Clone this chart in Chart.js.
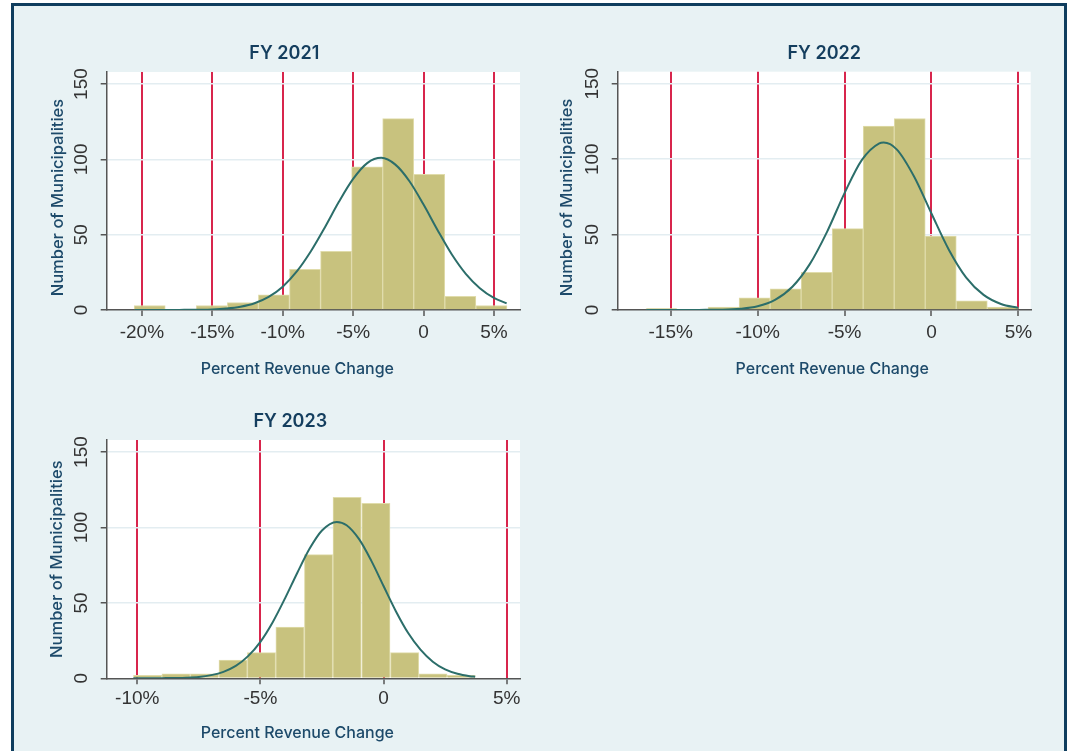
<!DOCTYPE html>
<html>
<head>
<meta charset="utf-8">
<script src="https://cdn.jsdelivr.net/npm/chart.js@4.4.1/dist/chart.umd.min.js"></script>
<style>
  html, body { margin: 0; padding: 0; background: #fff; }
  body { width: 1073px; height: 751px; position: relative; overflow: hidden; }
  #frame { position: absolute; left: 11px; top: 3px; width: 1050px; height: 760px;
           background: #e8f2f4; border: 3px solid #0f3d5e; border-bottom: none; }
  canvas { position: absolute; }
</style>
</head>
<body>
<div id="frame"></div>
<canvas id="fy2021" width="510" height="360" style="left:20px; top:30px;"></canvas>
<canvas id="fy2022" width="500" height="360" style="left:540px; top:30px;"></canvas>
<canvas id="fy2023" width="510" height="353" style="left:20px; top:398px;"></canvas>
<script>
// ---------------- data ----------------
const yTicks = [0, 50, 100, 150];

// FY 2021 - bin edges (% change), counts, fitted curve
const edges2021 = [-20.55, -18.34, -16.14, -13.93, -11.73, -9.52, -7.31, -5.11, -2.90, -0.70, 1.51, 3.72, 5.92];
const counts2021 = [3, 0, 3, 5, 10, 27, 39, 95, 127, 90, 9, 3];
const curveX2021 = [-20.5, -19, -18, -17, -16, -15, -14, -13, -12, -11, -10, -9, -8, -7, -6, -5, -4, -3, -2, -1, 0, 1, 2, 3, 4, 5, 5.9];
const curveY2021 = [0, 0, 0, 0.1, 0.2, 0.4, 1, 2.2, 4.5, 8.7, 15.5, 25.6, 39, 55, 72, 87, 97.5, 101, 96.5, 85.5, 70, 53, 37, 24, 14.5, 8, 4.4];

// FY 2022
const edges2022 = [-16.42, -14.64, -12.85, -11.07, -9.28, -7.50, -5.71, -3.93, -2.14, -0.36, 1.43, 3.21, 5.00];
const counts2022 = [1, 0, 2, 8, 14, 25, 54, 122, 127, 49, 6, 2];
const curveX2022 = [-16.4, -15, -14, -13, -12, -11, -10, -9, -8, -7, -6, -5, -4, -3, -2.75, -2, -1, 0, 1, 2, 3, 4, 5];
const curveY2022 = [0, 0, 0, 0.1, 0.2, 0.8, 2.5, 6.7, 15.4, 30.4, 52, 77.5, 99.5, 110.5, 111, 106.5, 88.5, 64, 40, 21.5, 10, 4, 1.4];

// FY 2023
const edges2023 = [-10.16, -9.00, -7.85, -6.69, -5.53, -4.38, -3.22, -2.06, -0.90, 0.28, 1.43, 2.58, 3.72];
const counts2023 = [2, 3, 3, 12, 17, 34, 82, 120, 116, 17, 3, 2];
const curveX2023 = [-10.16, -9.5, -9, -8.5, -8, -7.5, -7, -6.5, -6, -5.5, -5, -4.5, -4, -3.5, -3, -2.5, -1.9, -1.5, -1, -0.5, 0, 0.5, 1, 1.5, 2, 2.5, 3, 3.5, 3.72];
const curveY2023 = [0, 0, 0.1, 0.2, 0.4, 0.9, 2.1, 4.3, 8.2, 14.7, 24.2, 37.2, 53, 70, 86, 98, 103.7, 101.5, 92.4, 78, 61.2, 44.5, 30, 19, 11, 5.9, 3, 1.4, 1];

// ---------------- look ----------------
const BAR = '#c8c27e';
const BAR_EDGE = '#e0dcab';
const CURVE = '#2c6e6a';
const RED = '#d8254c';
const AXIS = '#555';
const NAVY = '#143e5e';
const TITLE_FONT = 'Inter, "Open Sans", sans-serif';
const TICK_FONT = '"Liberation Sans", Arial, sans-serif';

// paint the plot region white
const plotBg = {
  id: 'plotBg',
  beforeDraw(chart) {
    const { ctx, chartArea: a } = chart;
    ctx.save();
    ctx.fillStyle = '#ffffff';
    ctx.fillRect(a.left, a.top, a.right - a.left, a.bottom - a.top);
    ctx.restore();
  }
};

function makeHistogram(id, title, edges, counts, curveX, curveY, L) {
  const bars = counts.map((c, i) => ({ x: (edges[i] + edges[i + 1]) / 2, y: c }));
  const curve = curveX.map((x, i) => ({ x: x, y: curveY[i] }));

  return new Chart(document.getElementById(id), {
    type: 'bar',
    data: {
      datasets: [
        {
          type: 'line', data: curve, order: 0,
          borderColor: CURVE, borderWidth: 2, pointRadius: 0,
          cubicInterpolationMode: 'monotone', fill: false
        },
        {
          type: 'bar', data: bars, order: 1,
          backgroundColor: BAR, borderColor: BAR_EDGE, borderWidth: { top: 1, left: 1, right: 1, bottom: 0 },
          barPercentage: 1, categoryPercentage: 1
        }
      ]
    },
    options: {
      responsive: false,
      animation: false,
      devicePixelRatio: 1,
      layout: { padding: { left: L.padLeft, right: L.padRight, top: 0, bottom: 0 } },
      plugins: {
        legend: { display: false },
        tooltip: { enabled: false },
        title: {
          display: true, text: title, color: NAVY, fullSize: L.titleFull,
          font: { family: TITLE_FONT, size: 18, weight: '600', lineHeight: 1.2 },
          padding: { top: L.titleTop, bottom: L.titleBottom }
        }
      },
      scales: {
        x: {
          type: 'linear', min: L.xMin, max: L.xMax, offset: false,
          ticks: {
            stepSize: 5, includeBounds: false, autoSkip: false, maxRotation: 0,
            padding: L.xTickPad, color: '#333', font: { family: TICK_FONT, size: 19 },
            callback: v => (v === 0 ? '0' : v + '%')
          },
          grid: { offset: false, color: RED, lineWidth: 2, tickLength: 6, tickColor: AXIS, tickWidth: 1.5 },
          border: { color: AXIS, width: 1.5 },
          title: {
            display: true, text: L.xTitleHead + 'Percent Revenue Change' + L.xTitleTail, color: '#1d4a6a',
            font: { family: TITLE_FONT, size: 16, weight: '500', lineHeight: 1.2 },
            padding: { top: 0, bottom: L.xTitlePad }
          },
          afterFit: s => { s.height = L.xHeight; }
        },
        y: {
          min: 0, max: 158,
          afterBuildTicks: s => { s.ticks = yTicks.map(v => ({ value: v })); },
          ticks: {
            minRotation: 90, maxRotation: 90, crossAlign: 'center', padding: 3,
            color: '#333', font: { family: TICK_FONT, size: 19 }
          },
          grid: {
            color: c => (c.tick && c.tick.value === 0 ? 'rgba(0,0,0,0)' : '#e3edf1'),
            lineWidth: 1.5, tickLength: 6, tickColor: AXIS, tickWidth: 1.5
          },
          border: { color: AXIS, width: 1.5 },
          title: {
            display: true, text: 'Number of Municipalities' + L.yTitleTail, color: '#1d4a6a',
            font: { family: TITLE_FONT, size: 16.5, weight: '500', lineHeight: 1.2 },
            padding: { top: L.yTitlePad, bottom: 0 }
          },
          afterFit: s => { s.width = L.yWidth; }
        }
      }
    },
    plugins: [plotBg]
  });
}

document.addEventListener('DOMContentLoaded', () => {
  makeHistogram('fy2021', 'FY 2021', edges2021, counts2021, curveX2021, curveY2021, {
    padLeft: 28.6, padRight: 10, titleFull: true, titleTop: 12.9, titleBottom: 7.5,
    xMin: -22.5, xMax: 6.85, xTickPad: 5, xHeight: 80, xTitlePad: 11.4, xTitleHead: '', xTitleTail: '\u2003\u2003',
    yWidth: 58.1, yTitlePad: -0.2, yTitleTail: '   '
  });
  makeHistogram('fy2022', 'FY 2022', edges2022, counts2022, curveX2022, curveY2022, {
    padLeft: 10, padRight: 9.3, titleFull: false, titleTop: 12.9, titleBottom: 7.2,
    xMin: -18.05, xMax: 5.71, xTickPad: 5, xHeight: 80, xTitlePad: 11.4, xTitleHead: '\u2003', xTitleTail: '',
    yWidth: 67.7, yTitlePad: 6.8, yTitleTail: '   '
  });
  makeHistogram('fy2023', 'FY 2023', edges2023, counts2023, curveX2023, curveY2023, {
    padLeft: 40.6, padRight: 10, titleFull: true, titleTop: 12.5, titleBottom: 7.9,
    xMin: -11.24, xMax: 5.54, xTickPad: 3.3, xHeight: 72.7, xTitlePad: 8.1, xTitleHead: '', xTitleTail: '\u2003\u2003',
    yWidth: 46.1, yTitlePad: -13.8, yTitleTail: ''
  });
});
</script>
</body>
</html>
